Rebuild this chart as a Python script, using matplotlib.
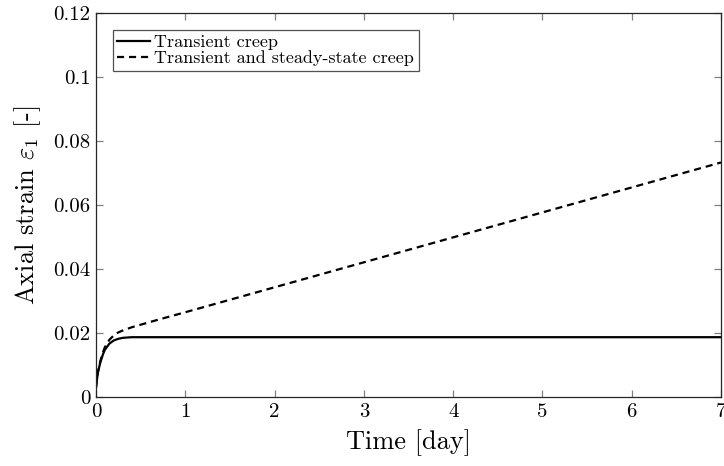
import matplotlib
matplotlib.use("Agg")
from matplotlib import pyplot as plt

# creep test results, strain vs time
time_day = [0, 0.02, 0.05, 0.08, 0.1, 0.15, 0.2, 0.25, 0.3, 0.4, 0.5, 0.7, 1, 2, 3, 4, 5, 6, 7]
transient = [0.003, 0.0075, 0.011, 0.0135, 0.0148, 0.0167, 0.0177, 0.0182, 0.0185, 0.0187,
             0.0187, 0.0187, 0.0187, 0.0187, 0.0187, 0.0187, 0.0187, 0.0187, 0.0187]
steady = [0.003, 0.0077, 0.0114, 0.0141, 0.0156, 0.0179, 0.0193, 0.0202, 0.0208, 0.0218,
          0.0226, 0.0242, 0.0265, 0.0343, 0.0421, 0.0499, 0.0577, 0.0655, 0.0733]

yticks = [0, 0.02, 0.04, 0.06, 0.08, 0.1, 0.12]
ytick_labels = ["0", "0.02", "0.04", "0.06", "0.08", "0.1", "0.12"]
xticks = [0, 1, 2, 3, 4, 5, 6, 7]

plt.rcParams['font.family'] = 'cmr10'
plt.rcParams['mathtext.fontset'] = 'cm'
plt.rcParams['axes.formatter.use_mathtext'] = True

fig = plt.figure(figsize=(7.24, 4.66), dpi=100)
ax = fig.add_axes([0.1326, 0.148, 0.8633, 0.824])

ax.plot(time_day, transient, color='black', lw=1.6, label='Transient creep')
ax.plot(time_day, steady, color='black', lw=1.6, ls=(0, (3.2, 2.2)),
        label='Transient and steady-state creep')

ax.set_xlim(0, 7)
ax.set_ylim(0, 0.12)
ax.set_xticks(xticks)
ax.set_xticklabels([str(t) for t in xticks])
ax.set_yticks(yticks)
ax.set_yticklabels(ytick_labels)

axis_col = '#262626'
for s in ax.spines.values():
    s.set_color(axis_col)
    s.set_linewidth(0.9)
ax.tick_params(direction='in', top=True, right=True, length=5, width=0.9,
               color='#808080', labelsize=15, labelcolor='black', pad=4)

ax.set_xlabel('Time [day]', fontsize=19, labelpad=6)
ax.set_ylabel(r'Axial strain $\varepsilon_1$ [-]', fontsize=19, labelpad=7)

leg = ax.legend(loc='upper left', bbox_to_anchor=(0.027, 0.956), borderaxespad=0,
                fontsize=13, frameon=True, fancybox=False, edgecolor=axis_col,
                handlelength=1.8, handletextpad=0.25, borderpad=0.25, labelspacing=0.02)
leg.get_frame().set_linewidth(0.9)

fig.savefig('out.png', dpi=100)
